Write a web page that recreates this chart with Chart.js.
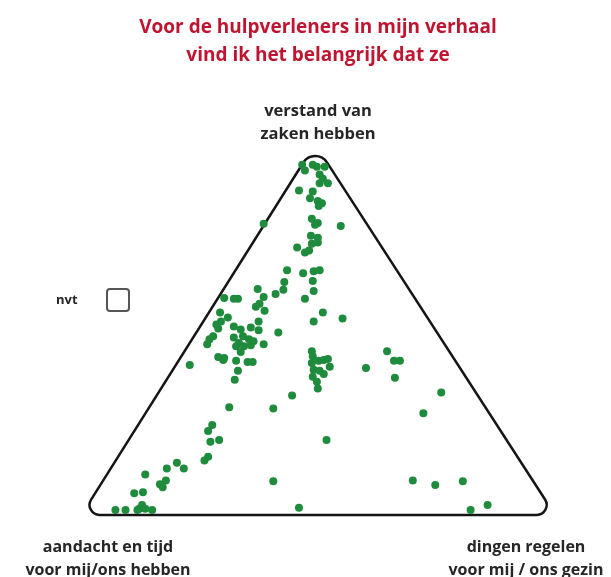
<!DOCTYPE html>
<html>
<head>
<meta charset="utf-8">
<script src="https://cdn.jsdelivr.net/npm/chart.js@4.4.1/dist/chart.umd.min.js"></script>
<style>
    body { margin: 0; background: #fff; }
    .wrap { position: relative; width: 611px; height: 577px; overflow: hidden; font-family: 'Open Sans', Lato, sans-serif; }
    canvas { position: absolute; left: 0; top: 0; }
    .lbl { position: absolute; text-align: center; font-weight: bold; white-space: nowrap; }
    .title { left: 118px; width: 400px; top: 12px; color: #c01530; font-size: 19px; line-height: 28px; }
    .corner { color: #262626; font-size: 16px; line-height: 23px; }
    .top { left: 218px; width: 200px; top: 98px; font-size: 16.5px; }
    .left { left: 8px; width: 200px; top: 535px; }
    .right { left: 426px; width: 200px; top: 535px; }
    .nvt { left: 56px; top: 290px; font-size: 13px; color: #262626; }
    .box { position: absolute; left: 106px; top: 288px; width: 20px; height: 20px; border: 2px solid #555; border-radius: 4px; }
</style>
</head>
<body>
<div class="wrap">
    <canvas id="ternary" width="611" height="577"></canvas>
    <div class="lbl title">Voor de hulpverleners in mijn verhaal<br>vind ik het belangrijk dat ze</div>
    <div class="lbl corner top">verstand van<br>zaken hebben</div>
    <div class="lbl corner left">aandacht en tijd<br>voor mij/ons hebben</div>
    <div class="lbl corner right">dingen regelen<br>voor mij / ons gezin</div>
    <div class="lbl nvt">nvt</div>
    <div class="box"></div>
</div>
<script>
// triangle corners: left = aandacht, top = verstand, right = regelen
const triangleX = [-1.4, 49.5, 101.8];
const triangleY = [-0.3, 104.2, -0.3];
const cornerRadius = [10, 14, 10];

// position of each answer inside the triangle (0-100 along the base, 0-100 in height)
const answerX = [
    46.7, 47.3, 49.0, 49.9, 51.6, 50.5, 51.2, 52.3, 50.5, 46.0,
    49.0, 48.4, 50.1, 51.0, 50.3, 38.3, 48.8, 50.1, 49.5, 55.1,
    48.6, 50.1, 50.1, 48.8, 45.6, 47.3, 48.2, 43.4, 46.9, 49.2,
    50.5, 42.8, 49.0, 42.6, 40.9, 37.0, 38.3, 32.7, 31.8, 29.7,
    49.2, 47.3, 37.4, 36.6, 38.5, 28.8, 30.5, 51.2, 55.5, 49.2,
    28.0, 29.0, 28.4, 31.8, 37.2, 35.5, 37.2, 33.3, 41.5, 27.3,
    26.5, 31.8, 33.8, 35.1, 36.1, 32.9, 32.3, 34.0, 35.5, 38.3,
    26.0, 33.3, 28.4, 29.7, 29.5, 32.3, 34.8, 35.9, 22.2, 32.7,
    32.0, 48.8, 49.0, 48.8, 50.3, 51.4, 52.3, 52.7, 49.2, 50.5,
    51.4, 49.0, 49.9, 50.1, 60.6, 65.2, 66.7, 68.0, 66.9, 44.5,
    40.4, 77.0, 73.1, 52.0, 40.4, 46.0, 70.8, 75.7, 81.7, 87.1,
    83.4, 30.8, 27.1, 26.2, 28.6, 26.7, 26.2, 25.4, 19.4, 20.9,
    17.2, 12.5, 17.0, 15.7, 16.3, 12.0, 10.1, 11.8, 11.2, 12.5,
    14.0, 8.2, 6.0, 10.8
];
const answerY = [
    98.3, 96.7, 98.3, 97.8, 97.8, 95.6, 94.4, 93.1, 93.1, 91.1,
    90.8, 88.9, 88.1, 87.5, 86.7, 81.7, 83.1, 81.9, 81.4, 81.1,
    78.3, 77.8, 76.4, 76.1, 75.0, 73.6, 74.2, 68.6, 67.8, 68.3,
    68.6, 65.3, 65.6, 63.1, 61.9, 63.3, 61.1, 60.6, 60.6, 60.8,
    62.8, 60.6, 59.2, 58.3, 57.2, 56.7, 55.3, 56.7, 55.0, 54.2,
    53.3, 54.2, 52.2, 52.8, 54.2, 52.5, 51.7, 51.9, 51.1, 50.0,
    49.2, 49.7, 50.0, 49.2, 48.6, 48.1, 47.2, 47.2, 47.5, 47.8,
    47.8, 45.6, 44.2, 43.9, 43.3, 43.1, 42.8, 42.8, 41.9, 40.3,
    37.8, 45.8, 44.4, 42.5, 43.1, 43.3, 43.6, 41.4, 40.6, 40.3,
    39.4, 38.6, 37.2, 35.3, 41.1, 45.8, 43.1, 43.1, 38.3, 33.3,
    29.7, 34.2, 28.3, 20.8, 9.2, 1.7, 9.4, 8.1, 9.2, 2.5,
    1.1, 30.0, 25.0, 23.3, 20.8, 20.3, 16.1, 15.0, 14.4, 12.8,
    12.8, 11.1, 9.4, 8.3, 7.5, 6.1, 5.8, 2.5, 1.4, 1.4,
    1.1, 1.1, 1.1, 1.1
];

const DOT_GREEN = '#1f8b3c';

const trianglePlugin = {
    id: 'triangle',
    beforeDatasetsDraw(chart) {
        const { ctx, scales: { x, y } } = chart;
        const pts = triangleX.map((v, i) => ({ px: x.getPixelForValue(v), py: y.getPixelForValue(triangleY[i]) }));
        ctx.save();
        ctx.beginPath();
        const first = pts[0], last = pts[pts.length - 1];
        ctx.moveTo((first.px + last.px) / 2, (first.py + last.py) / 2);
        for (let i = 0; i < pts.length; i++) {
            const p = pts[i], n = pts[(i + 1) % pts.length];
            ctx.arcTo(p.px, p.py, n.px, n.py, cornerRadius[i]);
        }
        ctx.closePath();
        ctx.lineWidth = 2.5;
        ctx.strokeStyle = '#151515';
        ctx.lineJoin = 'round';
        ctx.stroke();
        ctx.restore();
    },
};

new Chart(document.getElementById('ternary'), {
    type: 'scatter',
    plugins: [trianglePlugin],
    data: {
        datasets: [{
            data: answerX.map((v, i) => ({ x: v, y: answerY[i] })),
            backgroundColor: DOT_GREEN,
            borderColor: DOT_GREEN,
            borderWidth: 0,
            pointRadius: 4,
        }],
    },
    options: {
        responsive: false,
        animation: false,
        layout: { padding: 0 },
        plugins: { legend: { display: false }, tooltip: { enabled: false } },
        scales: {
            x: { type: 'linear', display: false, min: -18.28, max: 113.12 },
            y: { type: 'linear', display: false, min: -16.67, max: 143.61 },
        },
    },
});
</script>
</body>
</html>
